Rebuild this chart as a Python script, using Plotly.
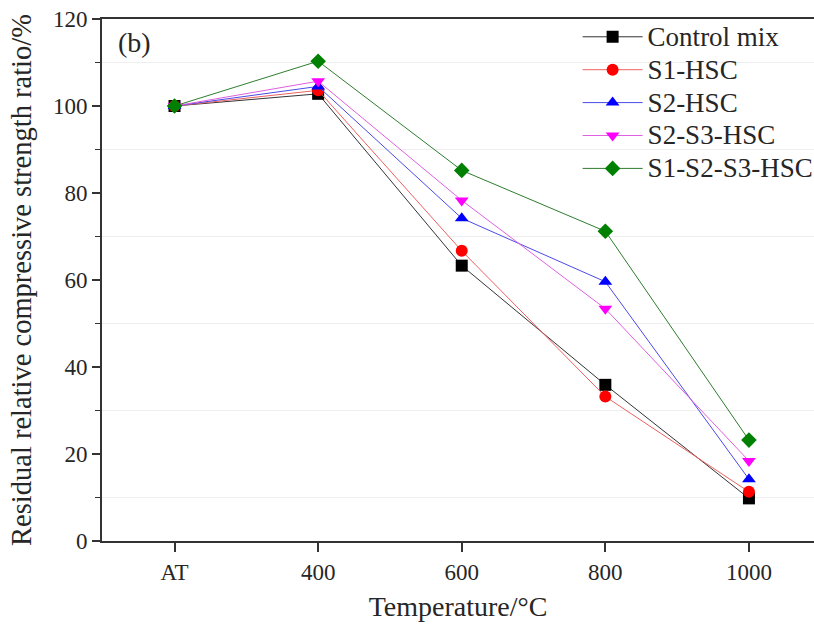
import plotly.graph_objects as go

# Heating temperature categories
temperatures = ["AT", "400", "600", "800", "1000"]

# Residual relative compressive strength ratio (%)
control_mix = [100, 102.8, 63.3, 35.9, 9.8]
s1_hsc = [100, 103.6, 66.7, 33.2, 11.3]
s2_hsc = [100, 104.5, 74.2, 59.6, 14.2]
s2_s3_hsc = [100, 105.7, 78.3, 53.4, 18.4]
s1_s2_s3_hsc = [100, 110.3, 85.2, 71.2, 23.2]

series_names = ["Control mix", "S1-HSC", "S2-HSC", "S2-S3-HSC", "S1-S2-S3-HSC"]
series_values = [control_mix, s1_hsc, s2_hsc, s2_s3_hsc, s1_s2_s3_hsc]
line_colors = ["#333333", "#f06060", "#4a4ae8", "#e060e0", "#2e7d2e"]
marker_colors = ["#000000", "#ff0000", "#0000ff", "#ff00ff", "#008000"]
symbols = ["square", "circle", "triangle-up", "triangle-down", "diamond"]

grid_levels = [10, 30, 50, 70, 90, 110]

FONT = "Liberation Serif, Times New Roman, serif"
TEXT = "#262626"

fig = go.Figure()
for i, (name, vals) in enumerate(zip(series_names, series_values)):
    fig.add_trace(go.Scatter(
        x=temperatures, y=vals, mode="lines+markers",
        name='<span style="font-size:27px">%s</span>' % name,
        line=dict(color=line_colors[i], width=1),
        marker=dict(symbol=symbols[i], size=12, color=marker_colors[i],
                    line=dict(width=0)),
    ))

for g in grid_levels:
    fig.add_shape(type="line", xref="paper", yref="y", x0=0, x1=1, y0=g, y1=g,
                  line=dict(color="#eeeeee", width=1), layer="below")

fig.add_annotation(text="(b)", xref="paper", yref="paper", x=0.02, y=0.955,
                   xanchor="left", yanchor="middle", showarrow=False,
                   font=dict(family=FONT, size=28, color=TEXT))

fig.update_layout(
    width=814, height=627,
    margin=dict(l=102, r=0, t=19, b=86, autoexpand=False),
    paper_bgcolor="white", plot_bgcolor="white",
    font=dict(family=FONT, size=23, color=TEXT),
    showlegend=True,
    legend=dict(x=0.668, y=1.007, xanchor="left", yanchor="top",
                font=dict(family=FONT, size=23, color=TEXT),
                bgcolor="rgba(255,255,255,0)", itemwidth=60),
    xaxis=dict(
        type="category", range=[-0.505, 4.453],
        showline=True, linecolor="#333333", linewidth=2, mirror=True,
        ticks="outside", ticklen=9, tickwidth=1.5, tickcolor="#333333",
        showgrid=False, zeroline=False,
        tickfont=dict(family=FONT, size=23),
        title=dict(text="Temperature/°C", font=dict(family=FONT, size=28),
                   standoff=13),
    ),
    yaxis=dict(
        range=[0, 120], dtick=20, tick0=0,
        showline=True, linecolor="#333333", linewidth=2, mirror=False,
        ticks="outside", ticklen=8, tickwidth=1.5, tickcolor="#333333",
        minor=dict(dtick=10, ticks="outside", ticklen=5, tickwidth=1.2,
                   tickcolor="#333333", showgrid=False),
        showgrid=False, zeroline=False,
        tickfont=dict(family=FONT, size=23),
        title=dict(text="Residual relative compressive strength ratio/%",
                   font=dict(family=FONT, size=28.5), standoff=13),
    ),
)

fig.write_html("out.html")
